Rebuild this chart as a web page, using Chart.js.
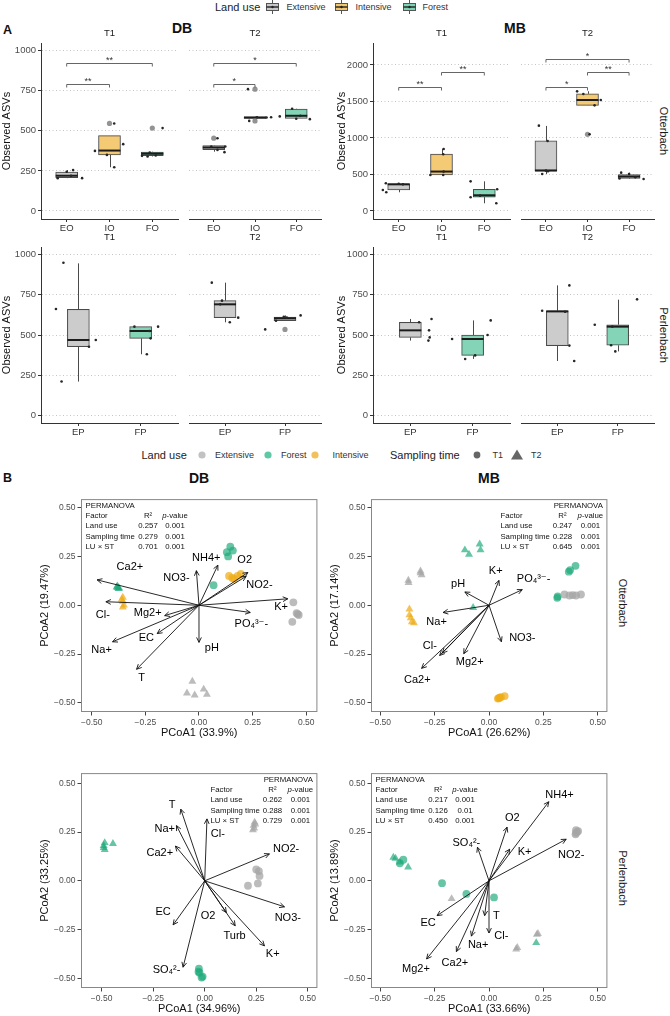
<!DOCTYPE html>
<html>
<head>
<meta charset="utf-8">
<script src="https://cdn.jsdelivr.net/npm/chart.js@4.4.1/dist/chart.umd.min.js"></script>
<style>
  body { margin: 0; width: 670px; height: 1016px; position: relative; overflow: hidden; background: #fff;
         font-family: "Liberation Sans", Arial, sans-serif; color: #111; }
  canvas { position: absolute; }
  .c { position: absolute; white-space: nowrap; transform: translate(-50%, -50%); line-height: 1; }
  .l { position: absolute; white-space: nowrap; transform: translate(0, -50%); line-height: 1; }
  .r { position: absolute; white-space: nowrap; transform: translate(-50%, -50%) rotate(90deg); line-height: 1; font-size: 11px; color: #1a1a1a; }
  svg { position: absolute; }
</style>
</head>
<body>
<!-- headings -->
<div class="l" style="left:3px;top:30px;font-weight:bold;font-size:12.5px">A</div>
<div class="c" style="left:182px;top:27.5px;font-weight:bold;font-size:14px">DB</div>
<div class="c" style="left:515px;top:27.5px;font-weight:bold;font-size:14px">MB</div>
<div class="l" style="left:3px;top:478px;font-weight:bold;font-size:12.5px">B</div>
<div class="c" style="left:199px;top:478px;font-weight:bold;font-size:14px">DB</div>
<div class="c" style="left:489px;top:478px;font-weight:bold;font-size:14px">MB</div>

<!-- legend A -->
<div class="l" style="left:215px;top:7px;font-size:11px;color:#222">Land use</div>
<svg style="left:266px;top:0px" width="13" height="14"><line x1="6.5" y1="0" x2="6.5" y2="14" stroke="#555"/><rect x="0.5" y="3.5" width="12" height="7" fill="#c9c9c9" stroke="#555"/><line x1="0.5" y1="7" x2="12.5" y2="7" stroke="#222" stroke-width="1.4"/><circle cx="6.5" cy="7" r="1.2" fill="#222"/></svg>
<div class="l" style="left:286.5px;top:7px;font-size:9px;color:#333">Extensive</div>
<svg style="left:335px;top:0px" width="13" height="14"><line x1="6.5" y1="0" x2="6.5" y2="14" stroke="#555"/><rect x="0.5" y="3.5" width="12" height="7" fill="#f3c76d" stroke="#555"/><line x1="0.5" y1="7" x2="12.5" y2="7" stroke="#222" stroke-width="1.4"/><circle cx="6.5" cy="7" r="1.2" fill="#222"/></svg>
<div class="l" style="left:355.5px;top:7px;font-size:9px;color:#333">Intensive</div>
<svg style="left:403px;top:0px" width="13" height="14"><line x1="6.5" y1="0" x2="6.5" y2="14" stroke="#555"/><rect x="0.5" y="3.5" width="12" height="7" fill="#7dd3b4" stroke="#555"/><line x1="0.5" y1="7" x2="12.5" y2="7" stroke="#222" stroke-width="1.4"/><circle cx="6.5" cy="7" r="1.2" fill="#222"/></svg>
<div class="l" style="left:422.5px;top:7px;font-size:9px;color:#333">Forest</div>

<!-- legend B -->
<div class="l" style="left:141.5px;top:455px;font-size:11px;color:#222">Land use</div>
<svg style="left:196px;top:449px" width="12" height="12"><circle cx="6" cy="6" r="3.6" fill="#c2c2c2"/></svg>
<div class="l" style="left:215px;top:455px;font-size:9px;color:#333">Extensive</div>
<svg style="left:262px;top:449px" width="12" height="12"><circle cx="6" cy="6" r="3.6" fill="#5ec9a5"/></svg>
<div class="l" style="left:281px;top:455px;font-size:9px;color:#333">Forest</div>
<svg style="left:309px;top:449px" width="12" height="12"><circle cx="6" cy="6" r="3.6" fill="#f1c15c"/></svg>
<div class="l" style="left:332.5px;top:455px;font-size:9px;color:#333">Intensive</div>
<div class="l" style="left:390px;top:455px;font-size:11px;color:#222">Sampling time</div>
<svg style="left:471px;top:449px" width="12" height="12"><circle cx="6" cy="6" r="3.4" fill="#666"/></svg>
<div class="l" style="left:492.5px;top:455px;font-size:9px;color:#333">T1</div>
<svg style="left:510px;top:448px" width="14" height="13"><polygon points="7,1.5 13,11.5 1,11.5" fill="#666"/></svg>
<div class="l" style="left:531px;top:455px;font-size:9px;color:#333">T2</div>

<!-- facet strips on the right -->
<div class="r" style="left:663px;top:131px">Otterbach</div>
<div class="r" style="left:663px;top:335px">Perlenbach</div>
<div class="r" style="left:622px;top:603px">Otterbach</div>
<div class="r" style="left:622px;top:878px">Perlenbach</div>

<script>
// ---------- panel A: observed ASVs ----------
var catsOtt = ['EO', 'IO', 'FO'];
var catsPerl = ['EP', 'FP'];
var luOtt = ['ext', 'int', 'for'];
var luPerl = ['ext', 'for'];
var ticksDB = [0, 250, 500, 750, 1000];
var ticksMBOtt = [0, 500, 1000, 1500, 2000];

// box stats: [low whisker, q1, median, q3, high whisker]
// jitter points: [category, x jitter, value]; outliers: [category, value]
// brackets: [from, to, y, label]
var dbOttT1Box = [[205, 208, 220, 242, 255], [273, 350, 377, 470, 470], [340, 345, 357, 367, 370]];
var dbOttT1Jit = [[0, -0.21, 205], [0, 0, 245], [0, 0.15, 255], [0, 0.1, 220], [0, 0.36, 205],
                  [1, -0.34, 375], [1, -0.06, 350], [1, 0.11, 273], [1, 0.32, 417], [1, 0.11, 546],
                  [2, -0.24, 344], [2, -0.06, 365], [2, 0.08, 346], [2, -0.11, 340], [2, 0.24, 517]];
var dbOttT1Out = [[1, 546], [2, 517]];
var dbOttT1Sig = [[0, 2, 923, '**'], [0, 1, 791, '**']];

var dbOttT2Box = [[370, 382, 396, 408, 410], [575, 577, 583, 588, 590], [573, 577, 594, 636, 638]];
var dbOttT2Jit = [[0, -0.06, 402], [0, 0.09, 381], [0, 0.28, 402], [0, 0.26, 367], [0, 0.09, 454],
                  [1, -0.17, 760], [1, -0.14, 562], [1, 0.05, 585], [1, 0.28, 583], [1, 0.39, 585],
                  [2, -0.4, 590], [2, -0.1, 638], [2, 0, 575], [2, 0.33, 573], [2, 0.1, 594]];
var dbOttT2Out = [[0, 454], [1, 760], [1, 562]];
var dbOttT2Sig = [[0, 2, 923, '*'], [0, 1, 791, '*']];

var mbOttT1Box = [[256, 288, 365, 372, 380], [490, 495, 540, 778, 850], [105, 190, 215, 297, 406]];
var mbOttT1Jit = [[0, -0.37, 288], [0, -0.29, 256], [0, -0.3, 379], [0, 0.1, 365], [0, 0, 372],
                  [1, 0.05, 849], [1, 0.04, 776], [1, -0.26, 493], [1, 0.04, 493], [1, 0.05, 539],
                  [2, -0.32, 406], [2, -0.32, 187], [2, -0.1, 210], [2, 0.3, 297], [2, 0.28, 105]];
var mbOttT1Out = [];
var mbOttT1Sig = [[0, 1, 1703, '**'], [1, 2, 1900, '**']];

var mbOttT2Box = [[505, 545, 555, 960, 1165], [1445, 1447, 1520, 1605, 1640], [438, 445, 472, 500, 525]];
var mbOttT2Jit = [[0, -0.17, 1169], [0, 0.04, 959], [0, -0.09, 507], [0, 0, 552], [0, 0.05, 545],
                  [1, -0.25, 1639], [1, -0.1, 1603], [1, 0.32, 1521], [1, 0.17, 1447], [1, 0.05, 1050],
                  [2, -0.19, 525], [2, 0, 507], [2, 0.15, 461], [2, 0.35, 438], [2, -0.23, 445]];
var mbOttT2Out = [[1, 1050]];
var mbOttT2Sig = [[0, 1, 1703, '*'], [1, 2, 1900, '**'], [0, 2, 2078, '*']];

var dbPerlT1Box = [[210, 427, 469, 660, 946], [380, 479, 525, 552, 552]];
var dbPerlT1Jit = [[0, -0.24, 950], [0, -0.36, 662], [0, -0.27, 210], [0, 0.17, 427], [0, 0.28, 469],
                   [1, -0.1, 552], [1, 0.1, 380], [1, 0.14, 525], [1, 0.16, 479], [1, 0.28, 552]];
var dbPerlT1Out = [];

var dbPerlT2Box = [[579, 608, 691, 714, 826], [589, 590, 604, 612, 622]];
var dbPerlT2Jit = [[0, -0.22, 826], [0, -0.05, 714], [0, -0.08, 691], [0, 0.08, 579], [0, 0.22, 608],
                   [1, -0.33, 535], [1, -0.15, 589], [1, 0.03, 608], [1, -0.02, 614], [1, 0.26, 622]];
var dbPerlT2Out = [[1, 535]];

var mbPerlT1Box = [[465, 485, 529, 579, 600], [351, 373, 475, 500, 591]];
var mbPerlT1Jit = [[0, 0.14, 579], [0, 0.29, 465], [0, 0.3, 529], [0, 0.31, 485], [0, 0.34, 600],
                   [1, -0.33, 475], [1, -0.12, 351], [1, 0.04, 373], [1, 0.24, 500], [1, 0.29, 591]];
var mbPerlT1Out = [];

var mbPerlT2Box = [[338, 434, 647, 651, 809], [398, 436, 552, 564, 720]];
var mbPerlT2Jit = [[0, -0.25, 651], [0, 0.13, 645], [0, 0.2, 809], [0, 0.2, 434], [0, 0.28, 338],
                   [1, -0.38, 564], [1, -0.11, 436], [1, -0.04, 398], [1, -0.09, 552], [1, 0.32, 722]];
var mbPerlT2Out = [];

// ---------- panel B: PCoA ----------
var pcTicks = [-0.5, -0.25, 0, 0.25, 0.5];
var permRows = ['Land use', 'Sampling time', 'LU \u00d7 ST'];

var dbOttExt1 = [[0.44, 0.015], [0.455, -0.04], [0.465, -0.05], [0.46, -0.045], [0.435, -0.085]];
var dbOttExt2 = [[-0.031, -0.39], [-0.056, -0.45], [-0.02, -0.46], [0.022, -0.43], [0.037, -0.457]];
var dbOttFor1 = [[0.146, 0.3], [0.13, 0.272], [0.158, 0.28], [0.136, 0.25], [0.068, 0.103]];
var dbOttFor2 = [[-0.384, 0.093], [-0.378, 0.09], [-0.372, 0.087], [-0.38, 0.098], [-0.375, 0.085]];
var dbOttInt1 = [[0.14, 0.15], [0.155, 0.14], [0.18, 0.15], [0.195, 0.16], [0.165, 0.135]];
var dbOttInt2 = [[-0.355, 0.04], [-0.355, 0.02], [-0.35, 0.0], [-0.355, -0.01], [-0.36, 0.03]];
var dbOttVars = ['Ca2+', 'NO3-', 'NH4+', 'O2', 'NO2-', 'K+', 'Cl-', 'PO\u2084\u00b3\u207b-', 'Mg2+', 'EC', 'Na+', 'T', 'pH'];
var dbOttTips = [[-0.475, 0.13], [-0.012, 0.177], [0.088, 0.205], [0.228, 0.168], [0.22, 0.148], [0.414, 0.033],
                 [-0.434, 0.018], [0.239, -0.037], [-0.16, -0.053], [-0.195, -0.145], [-0.403, -0.187], [-0.291, -0.328], [0, -0.19]];
var dbOttLabs = [[-0.322, 0.197], [-0.105, 0.139], [0.034, 0.243], [0.213, 0.233], [0.282, 0.105], [0.383, -0.011],
                 [-0.448, -0.05], [0.244, -0.095], [-0.239, -0.042], [-0.245, -0.17], [-0.454, -0.23], [-0.268, -0.373], [0.06, -0.22]];
var dbOttR2 = ['0.257', '0.279', '0.701'];
var dbOttP = ['0.001', '0.001', '0.001'];

var mbOttExt1 = [[0.347, 0.055], [0.37, 0.05], [0.4, 0.05], [0.423, 0.055], [0.385, 0.052]];
var mbOttExt2 = [[-0.371, 0.127], [-0.315, 0.175], [-0.31, 0.155], [-0.37, 0.115], [-0.315, 0.165]];
var mbOttFor1 = [[0.398, 0.202], [0.367, 0.172], [0.314, 0.038], [0.373, 0.18], [0.316, 0.045]];
var mbOttFor2 = [[-0.111, 0.283], [-0.092, 0.26], [-0.043, 0.313], [-0.039, 0.283], [-0.073, -0.012]];
var mbOttInt1 = [[0.049, -0.473], [0.072, -0.465], [0.041, -0.478], [0.055, -0.47], [0.045, -0.475]];
var mbOttInt2 = [[-0.366, -0.02], [-0.366, -0.05], [-0.36, -0.065], [-0.355, -0.085], [-0.345, -0.09]];
var mbOttVars = ['K+', 'PO\u2084\u00b3\u207b-', 'pH', 'Na+', 'NO3-', 'Mg2+', 'Cl-', 'Ca2+', ''];
var mbOttTips = [[0.046, 0.127], [0.153, 0.08], [-0.111, 0.068], [-0.211, -0.037], [0.057, -0.187], [-0.116, -0.248],
                 [-0.227, -0.257], [-0.31, -0.323], [-0.215, -0.245]];
var mbOttLabs = [[0.031, 0.177], [0.205, 0.133], [-0.142, 0.11], [-0.241, -0.087], [0.153, -0.167], [-0.089, -0.292],
                 [-0.272, -0.208], [-0.33, -0.38], [0, 0]];
var mbOttR2 = ['0.247', '0.228', '0.645'];
var mbOttP = ['0.001', '0.001', '0.001'];

var dbPerlExt1 = [[0.25, 0.058], [0.263, 0.05], [0.266, 0.025], [0.258, -0.013], [0.21, -0.025]];
var dbPerlExt2 = [[0.242, 0.3], [0.237, 0.283], [0.234, 0.26], [0.245, 0.29], [0.24, 0.27]];
var dbPerlFor1 = [[-0.028, -0.45], [-0.025, -0.47], [-0.015, -0.495], [-0.03, -0.465], [-0.01, -0.49]];
var dbPerlFor2 = [[-0.49, 0.18], [-0.485, 0.16], [-0.445, 0.19], [-0.49, 0.17], [-0.485, 0.195]];
var dbPerlInt1 = [];
var dbPerlInt2 = [];
var dbPerlVars = ['T', 'Na+', 'Cl-', 'Ca2+', 'NO2-', 'NO3-', 'K+', 'Turb', 'O2', 'EC', 'SO\u2084\u00b2-'];
var dbPerlTips = [[-0.116, 0.367], [-0.137, 0.283], [0.011, 0.317], [-0.142, 0.178], [0.314, 0.138], [0.387, -0.133],
                  [0.29, -0.333], [0.148, -0.23], [0.105, -0.162], [-0.153, -0.225], [-0.105, -0.442]];
var dbPerlLabs = [[-0.158, 0.39], [-0.194, 0.267], [0.064, 0.242], [-0.218, 0.142], [0.395, 0.162], [0.403, -0.192],
                  [0.33, -0.372], [0.145, -0.28], [0.016, -0.178], [-0.202, -0.158], [-0.185, -0.458]];
var dbPerlR2 = ['0.262', '0.288', '0.729'];
var dbPerlP = ['0.001', '0.001', '0.001'];

var mbPerlExt1 = [[0.4, 0.26], [0.405, 0.25], [0.4, 0.245], [0.41, 0.255], [0.398, 0.238]];
var mbPerlExt2 = [[-0.172, -0.092], [0.13, -0.342], [0.225, -0.27], [0.125, -0.35], [0.22, -0.275]];
var mbPerlFor1 = [[-0.394, 0.108], [-0.41, 0.09], [-0.216, -0.012], [-0.104, -0.067], [0.023, -0.085]];
var mbPerlFor2 = [[-0.44, 0.12], [-0.41, 0.095], [-0.372, 0.07], [-0.43, 0.115], [0.217, -0.317]];
var mbPerlInt1 = [];
var mbPerlInt2 = [];
var mbPerlVars = ['NH4+', 'O2', 'NO2-', 'K+', 'SO\u2084\u00b2-', 'EC', 'Mg2+', 'Ca2+', 'Na+', 'Cl-', 'T'];
var mbPerlTips = [[0.275, 0.405], [0.083, 0.275], [0.355, 0.213], [0.095, 0.162], [-0.053, 0.172], [-0.239, -0.178],
                  [-0.287, -0.4], [-0.15, -0.362], [-0.081, -0.283], [0, -0.267], [-0.02, -0.178]];
var mbPerlLabs = [[0.324, 0.44], [0.107, 0.32], [0.378, 0.13], [0.164, 0.147], [-0.104, 0.192], [-0.28, -0.217],
                  [-0.336, -0.45], [-0.157, -0.422], [-0.05, -0.33], [0.057, -0.28], [0.034, -0.178]];
var mbPerlR2 = ['0.217', '0.126', '0.450'];
var mbPerlP = ['0.001', '0.01', '0.001'];

// ---------- drawing ----------
var FONT = '"Liberation Sans", "DejaVu Sans", Arial, sans-serif';
Chart.defaults.font.family = FONT;
Chart.defaults.animation = false;
Chart.defaults.responsive = false;
Chart.defaults.events = [];
Chart.defaults.plugins.legend.display = false;
Chart.defaults.plugins.tooltip.enabled = false;

var BOX_FILL = { ext: 'rgba(201,201,201,0.95)', int: 'rgba(243,199,109,0.95)', 'for': 'rgba(125,211,180,0.95)' };
var PT_COL = { ext: 'rgba(165,165,165,0.75)', int: 'rgba(238,172,22,0.72)', 'for': 'rgba(30,170,122,0.68)' };

function makeCanvas(x0, y0, x1, y1, pl, pt, pr, pb) {
    var c = document.createElement('canvas');
    c.width = x1 - x0 + pl + pr;
    c.height = y1 - y0 + pt + pb;
    c.style.left = (x0 - pl) + 'px';
    c.style.top = (y0 - pt) + 'px';
    document.body.appendChild(c);
    return c;
}

function boxFacet(f) {
    var first = f.pl > 0;
    var canvas = makeCanvas(f.x0, f.y0, f.x1, f.y1, f.pl, f.pt, 2, 17);
    var boxes = f.box.map(function (s, i) { return { x: i, y: [s[1], s[3]] }; });
    var jit = f.jit.map(function (p) { return { x: p[0] + p[1], y: p[2] }; });
    var outs = f.out.map(function (p) { return { x: p[0], y: p[1] }; });

    var extras = {
        id: 'boxExtras',
        beforeDatasetsDraw: function (chart) {
            var ctx = chart.ctx, xs = chart.scales.x, ys = chart.scales.y;
            ctx.save();
            ctx.strokeStyle = '#4a4a4a';
            ctx.lineWidth = 1;
            f.box.forEach(function (s, i) {
                var px = Math.round(xs.getPixelForValue(i)) + 0.5;
                ctx.beginPath();
                ctx.moveTo(px, ys.getPixelForValue(s[0]));
                ctx.lineTo(px, ys.getPixelForValue(s[1]));
                ctx.moveTo(px, ys.getPixelForValue(s[3]));
                ctx.lineTo(px, ys.getPixelForValue(s[4]));
                ctx.stroke();
            });
            ctx.restore();
        },
        afterDatasetDraw: function (chart, args) {
            if (args.index !== 0) return;
            var ctx = chart.ctx, ys = chart.scales.y;
            ctx.save();
            ctx.strokeStyle = '#1c1c1c';
            ctx.lineWidth = 2;
            chart.getDatasetMeta(0).data.forEach(function (bar, i) {
                var p = bar.getProps(['x', 'width'], true);
                var y = ys.getPixelForValue(f.box[i][2]);
                ctx.beginPath();
                ctx.moveTo(p.x - p.width / 2, y);
                ctx.lineTo(p.x + p.width / 2, y);
                ctx.stroke();
            });
            ctx.restore();
        },
        afterDraw: function (chart) {
            var ctx = chart.ctx, xs = chart.scales.x, ys = chart.scales.y, a = chart.chartArea;
            ctx.save();
            (f.sig || []).forEach(function (b) {
                var x1 = xs.getPixelForValue(b[0]), x2 = xs.getPixelForValue(b[1]);
                var y = Math.round(ys.getPixelForValue(b[2])) + 0.5;
                ctx.strokeStyle = '#555';
                ctx.lineWidth = 0.9;
                ctx.beginPath();
                ctx.moveTo(x1, y + 3);
                ctx.lineTo(x1, y);
                ctx.lineTo(x2, y);
                ctx.lineTo(x2, y + 3);
                ctx.stroke();
                ctx.fillStyle = '#333';
                ctx.font = '9px ' + FONT;
                ctx.textAlign = 'center';
                ctx.textBaseline = 'alphabetic';
                ctx.fillText(b[3], (x1 + x2) / 2, y - 1);
            });
            ctx.fillStyle = '#1a1a1a';
            ctx.font = '9.5px ' + FONT;
            ctx.textAlign = 'center';
            ctx.textBaseline = 'middle';
            ctx.fillText(f.strip, (a.left + a.right) / 2, a.top - 9.5);
            ctx.restore();
        }
    };

    new Chart(canvas, {
        type: 'scatter',
        data: {
            datasets: [
                { type: 'bar', data: boxes, backgroundColor: f.lu.map(function (k) { return BOX_FILL[k]; }),
                  borderColor: '#4a4a4a', borderWidth: 1, borderSkipped: false, barThickness: 22, grouped: false, order: 3 },
                { type: 'scatter', data: outs, pointRadius: 2.6, backgroundColor: 'rgba(128,128,128,0.85)', borderWidth: 0, order: 2 },
                { type: 'scatter', data: jit, pointRadius: 1.3, backgroundColor: '#262626', borderWidth: 0, order: 1 }
            ]
        },
        options: {
            layout: { padding: { left: 0, top: f.pt, right: 2, bottom: 0 } },
            scales: {
                x: {
                    type: 'linear', min: -0.6, max: f.cats.length - 0.4, offset: false,
                    afterBuildTicks: function (s) { s.ticks = f.cats.map(function (c, i) { return { value: i }; }); },
                    afterFit: function (s) { s.height = 17; },
                    ticks: { callback: function (v, i) { return f.cats[i]; }, font: { size: 9.5 }, color: '#333',
                             padding: 1, maxRotation: 0, autoSkip: false },
                    grid: { display: true, drawOnChartArea: false, drawTicks: true, tickLength: 3, tickColor: '#333', offset: false },
                    border: { display: true, color: '#333', width: 1 }
                },
                y: {
                    type: 'linear', min: f.ymin, max: f.ymax,
                    afterBuildTicks: function (s) { s.ticks = f.ticks.map(function (v) { return { value: v }; }); },
                    afterFit: function (s) { s.width = f.pl; },
                    ticks: { display: first, callback: function (v) { return String(v); }, font: { size: 9.5 },
                             color: '#4d4d4d', padding: 2 },
                    grid: { color: '#c4c4c4', lineWidth: 1, drawTicks: first, tickLength: 3, tickColor: '#333' },
                    border: { display: first, color: '#333', width: 1, dash: [1, 2.5] },
                    title: { display: first, text: 'Observed ASVs', font: { size: 11 }, color: '#111', padding: { top: 0, bottom: 0 } }
                }
            }
        },
        plugins: [extras]
    });
}

function fmtPc(v) {
    return (v < 0 ? '\u2212' : '') + Math.abs(v).toFixed(2);
}

function drawArrow(ctx, x0, y0, x1, y1) {
    var ang = Math.atan2(y1 - y0, x1 - x0), len = 5.5, spread = 0.45;
    ctx.beginPath();
    ctx.moveTo(x0, y0);
    ctx.lineTo(x1, y1);
    ctx.moveTo(x1 - len * Math.cos(ang - spread), y1 - len * Math.sin(ang - spread));
    ctx.lineTo(x1, y1);
    ctx.lineTo(x1 - len * Math.cos(ang + spread), y1 - len * Math.sin(ang + spread));
    ctx.stroke();
}

function drawTable(ctx, a, side, r2, pv) {
    var top = a.top + 7, dy = 10.1, left, r2c, pc;
    if (side === 'left') { left = a.left + 4.5; r2c = a.left + 67; pc = a.left + 94; }
    else { left = a.right - 107; r2c = a.right - 45; pc = a.right - 17; }
    ctx.save();
    ctx.fillStyle = '#111';
    ctx.textBaseline = 'middle';
    ctx.font = '7.8px ' + FONT;
    ctx.textAlign = side === 'left' ? 'left' : 'right';
    ctx.fillText('PERMANOVA', side === 'left' ? left : a.right - 4.5, top);
    ctx.textAlign = 'left';
    ctx.fillText('Factor', left, top + dy);
    ctx.textAlign = 'center';
    ctx.fillText('R\u00b2', r2c, top + dy);
    // "p-value" with italic p
    ctx.font = 'italic 7.8px ' + FONT;
    var wp = ctx.measureText('p').width;
    ctx.font = '7.8px ' + FONT;
    var wr = ctx.measureText('-value').width;
    var sx = pc - (wp + wr) / 2;
    ctx.textAlign = 'left';
    ctx.font = 'italic 7.8px ' + FONT;
    ctx.fillText('p', sx, top + dy);
    ctx.font = '7.8px ' + FONT;
    ctx.fillText('-value', sx + wp, top + dy);
    for (var i = 0; i < permRows.length; i++) {
        var y = top + dy * (i + 2);
        ctx.textAlign = 'left';
        ctx.fillText(permRows[i], left, y);
        ctx.textAlign = 'center';
        ctx.fillText(r2[i], r2c, y);
        ctx.fillText(pv[i], pc, y);
    }
    ctx.restore();
}

function pts(arr) {
    return arr.map(function (p) { return { x: p[0], y: p[1] }; });
}

function grp(arr, lu, shape) {
    return { data: pts(arr), pointStyle: shape, pointRadius: shape === 'triangle' ? 4.6 : 3.9,
             backgroundColor: PT_COL[lu], borderWidth: 0 };
}

function pcoaPanel(p) {
    var canvas = makeCanvas(p.x0, p.y0, p.x1, p.y1, 43, 2, 4, 28);
    var extras = {
        id: 'pcoaExtras',
        afterDatasetsDraw: function (chart) {
            var ctx = chart.ctx, xs = chart.scales.x, ys = chart.scales.y;
            var ox = xs.getPixelForValue(0), oy = ys.getPixelForValue(0);
            ctx.save();
            ctx.strokeStyle = '#111';
            ctx.lineWidth = 0.9;
            p.tips.forEach(function (t) {
                drawArrow(ctx, ox, oy, xs.getPixelForValue(t[0]), ys.getPixelForValue(t[1]));
            });
            ctx.fillStyle = '#000';
            ctx.font = '11px ' + FONT;
            ctx.textAlign = 'center';
            ctx.textBaseline = 'middle';
            p.vars.forEach(function (v, i) {
                if (!v) return;
                ctx.fillText(v, xs.getPixelForValue(p.labs[i][0]), ys.getPixelForValue(p.labs[i][1]));
            });
            ctx.restore();
        },
        afterDraw: function (chart) {
            var ctx = chart.ctx, a = chart.chartArea;
            ctx.save();
            ctx.strokeStyle = '#888';
            ctx.lineWidth = 1;
            ctx.strokeRect(a.left + 0.5, a.top + 0.5, a.right - a.left - 1, a.bottom - a.top - 1);
            ctx.restore();
            drawTable(ctx, a, p.side, p.r2, p.pv);
        }
    };
    new Chart(canvas, {
        type: 'scatter',
        data: {
            datasets: [
                grp(p.ext1, 'ext', 'circle'), grp(p.ext2, 'ext', 'triangle'),
                grp(p.for1, 'for', 'circle'), grp(p.for2, 'for', 'triangle'),
                grp(p.int1, 'int', 'circle'), grp(p.int2, 'int', 'triangle')
            ]
        },
        options: {
            layout: { padding: { left: 0, top: 2, right: 4, bottom: 0 } },
            scales: {
                x: {
                    type: 'linear', min: p.xr[0], max: p.xr[1], offset: false,
                    afterBuildTicks: function (s) { s.ticks = pcTicks.map(function (v) { return { value: v }; }); },
                    afterFit: function (s) { s.height = 28; },
                    ticks: { callback: fmtPc, font: { size: 8.5 }, color: '#4d4d4d', padding: 2, maxRotation: 0, autoSkip: false },
                    grid: { display: true, drawOnChartArea: false, drawTicks: true, tickLength: 3.5, tickColor: '#444', offset: false },
                    border: { display: false },
                    title: { display: true, text: p.xTitle, font: { size: 11 }, color: '#111', padding: { top: 0, bottom: 0 } }
                },
                y: {
                    type: 'linear', min: p.yr[0], max: p.yr[1],
                    afterBuildTicks: function (s) { s.ticks = pcTicks.map(function (v) { return { value: v }; }); },
                    afterFit: function (s) { s.width = 43; },
                    ticks: { callback: fmtPc, font: { size: 8.5 }, color: '#4d4d4d', padding: 2, autoSkip: false },
                    grid: { display: true, drawOnChartArea: false, drawTicks: true, tickLength: 3.5, tickColor: '#444' },
                    border: { display: false },
                    title: { display: true, text: p.yTitle, font: { size: 11 }, color: '#111', padding: { top: 0, bottom: 0 } }
                }
            }
        },
        plugins: [extras]
    });
}

// panel A facets
boxFacet({ x0: 41, y0: 43, x1: 180, y1: 219, pl: 41, pt: 25, cats: catsOtt, lu: luOtt, ymin: -50, ymax: 1048, ticks: ticksDB,
           box: dbOttT1Box, jit: dbOttT1Jit, out: dbOttT1Out, sig: dbOttT1Sig, strip: 'T1' });
boxFacet({ x0: 185, y0: 43, x1: 323, y1: 219, pl: 0, pt: 25, cats: catsOtt, lu: luOtt, ymin: -50, ymax: 1048, ticks: ticksDB,
           box: dbOttT2Box, jit: dbOttT2Jit, out: dbOttT2Out, sig: dbOttT2Sig, strip: 'T2' });
boxFacet({ x0: 373, y0: 43, x1: 512, y1: 219, pl: 38, pt: 25, cats: catsOtt, lu: luOtt, ymin: -110, ymax: 2301, ticks: ticksMBOtt,
           box: mbOttT1Box, jit: mbOttT1Jit, out: mbOttT1Out, sig: mbOttT1Sig, strip: 'T1' });
boxFacet({ x0: 517, y0: 43, x1: 656, y1: 219, pl: 0, pt: 25, cats: catsOtt, lu: luOtt, ymin: -110, ymax: 2301, ticks: ticksMBOtt,
           box: mbOttT2Box, jit: mbOttT2Jit, out: mbOttT2Out, sig: mbOttT2Sig, strip: 'T2' });
boxFacet({ x0: 41, y0: 247, x1: 180, y1: 423, pl: 41, pt: 15, cats: catsPerl, lu: luPerl, ymin: -48, ymax: 1048, ticks: ticksDB,
           box: dbPerlT1Box, jit: dbPerlT1Jit, out: dbPerlT1Out, strip: 'T1' });
boxFacet({ x0: 185, y0: 247, x1: 323, y1: 423, pl: 0, pt: 15, cats: catsPerl, lu: luPerl, ymin: -48, ymax: 1048, ticks: ticksDB,
           box: dbPerlT2Box, jit: dbPerlT2Jit, out: dbPerlT2Out, strip: 'T2' });
boxFacet({ x0: 373, y0: 247, x1: 512, y1: 423, pl: 38, pt: 15, cats: catsPerl, lu: luPerl, ymin: -48, ymax: 1048, ticks: ticksDB,
           box: mbPerlT1Box, jit: mbPerlT1Jit, out: mbPerlT1Out, strip: 'T1' });
boxFacet({ x0: 517, y0: 247, x1: 656, y1: 423, pl: 0, pt: 15, cats: catsPerl, lu: luPerl, ymin: -48, ymax: 1048, ticks: ticksDB,
           box: mbPerlT2Box, jit: mbPerlT2Jit, out: mbPerlT2Out, strip: 'T2' });

// panel B ordinations
pcoaPanel({ x0: 81, y0: 494, x1: 318, y1: 712, xr: [-0.55, 0.552], yr: [-0.5465, 0.5435],
            xTitle: 'PCoA1 (33.9%)', yTitle: 'PCoA2 (19.47%)', side: 'left', r2: dbOttR2, pv: dbOttP,
            ext1: dbOttExt1, ext2: dbOttExt2, for1: dbOttFor1, for2: dbOttFor2, int1: dbOttInt1, int2: dbOttInt2,
            vars: dbOttVars, tips: dbOttTips, labs: dbOttLabs });
pcoaPanel({ x0: 371, y0: 494, x1: 608, y1: 712, xr: [-0.5427, 0.5445], yr: [-0.5465, 0.5435],
            xTitle: 'PCoA1 (26.62%)', yTitle: 'PCoA2 (17.14%)', side: 'right', r2: mbOttR2, pv: mbOttP,
            ext1: mbOttExt1, ext2: mbOttExt2, for1: mbOttFor1, for2: mbOttFor2, int1: mbOttInt1, int2: mbOttInt2,
            vars: mbOttVars, tips: mbOttTips, labs: mbOttLabs });
pcoaPanel({ x0: 81, y0: 768, x1: 318, y1: 988, xr: [-0.6, 0.5467], yr: [-0.5485, 0.5515],
            xTitle: 'PCoA1 (34.96%)', yTitle: 'PCoA2 (33.25%)', side: 'right', r2: dbPerlR2, pv: dbPerlP,
            ext1: dbPerlExt1, ext2: dbPerlExt2, for1: dbPerlFor1, for2: dbPerlFor2, int1: dbPerlInt1, int2: dbPerlInt2,
            vars: dbPerlVars, tips: dbPerlTips, labs: dbPerlLabs });
pcoaPanel({ x0: 371, y0: 768, x1: 608, y1: 988, xr: [-0.5427, 0.5445], yr: [-0.5485, 0.5515],
            xTitle: 'PCoA1 (33.66%)', yTitle: 'PCoA2 (13.89%)', side: 'left', r2: mbPerlR2, pv: mbPerlP,
            ext1: mbPerlExt1, ext2: mbPerlExt2, for1: mbPerlFor1, for2: mbPerlFor2, int1: mbPerlInt1, int2: mbPerlInt2,
            vars: mbPerlVars, tips: mbPerlTips, labs: mbPerlLabs });
</script>
</body>
</html>
